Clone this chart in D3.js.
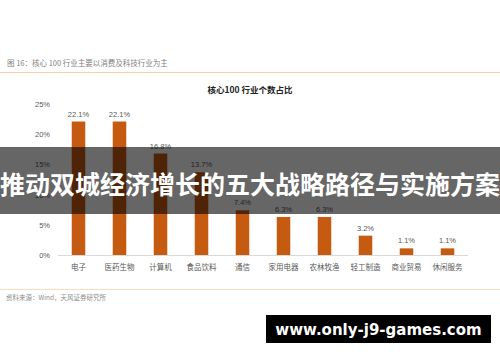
<!DOCTYPE html>
<html><head><meta charset="utf-8">
<script src="https://cdn.jsdelivr.net/npm/d3@7"></script>
<style>
html,body{margin:0;padding:0;background:#fff;}
svg{display:block;font-family:"Noto Sans CJK SC","Noto Sans",sans-serif;}
</style></head>
<body>
<script>
const categories = ["电子","医药生物","计算机","食品饮料","通信","家用电器","农林牧渔","轻工制造","商业贸易","休闲服务"];
const values = [22.1,22.1,16.8,13.7,7.4,6.3,6.3,3.2,1.1,1.1];
const yTicks = [0,5,10,15,20,25];
const figureTitle = "图 16：核心 100 行业主要以消费及科技行业为主";
const chartTitle = "核心100 行业个数占比";
const sourceText = "资料来源：Wind，天风证券研究所";
const overlayText = "推动双城经济增长的五大战略路径与实施方案";
const watermark = "www.only-j9-games.com";

const W = 500, H = 362;
const svg = d3.select("body").append("svg").attr("width", W).attr("height", H);

// header
svg.append("text").attr("x", 7).attr("y", 66).attr("font-size", 7.5).attr("fill", "#7f7f7f").text(figureTitle);
svg.append("line").attr("x1", 0).attr("x2", 500).attr("y1", 72.5).attr("y2", 72.5).attr("stroke", "#f9cfa8").attr("stroke-width", 1.2);
svg.append("text").attr("x", 250).attr("y", 93).attr("text-anchor", "middle").attr("font-size", 8.5).attr("font-weight", "bold").attr("fill", "#222").text(chartTitle);

const x = d3.scaleBand().domain(categories).range([58, 468]).paddingInner(0.67).paddingOuter(0.335);
const y = d3.scaleLinear().domain([0, 25]).range([255, 104]);

// axis
svg.append("line").attr("x1", 58).attr("x2", 468).attr("y1", 255.5).attr("y2", 255.5).attr("stroke", "#d9d9d9").attr("stroke-width", 1);
svg.selectAll(".yt").data(yTicks).join("text")
  .attr("x", 50).attr("y", d => y(d) + 3).attr("text-anchor", "end")
  .attr("font-size", 7.5).attr("fill", "#595959").attr("font-family", "Liberation Sans, Arial, sans-serif")
  .text(d => d + "%");

svg.selectAll(".bar").data(values).join("rect")
  .attr("x", (d, i) => x(categories[i])).attr("width", x.bandwidth())
  .attr("y", d => y(d)).attr("height", d => y(0) - y(d))
  .attr("fill", "#c55a11");

svg.selectAll(".vl").data(values).join("text")
  .attr("x", (d, i) => x(categories[i]) + x.bandwidth() / 2).attr("y", d => y(d) - 5)
  .attr("text-anchor", "middle").attr("font-size", 7.5).attr("fill", "#595959")
  .attr("font-family", "Liberation Sans, Arial, sans-serif")
  .text(d => d.toFixed(1) + "%");

svg.selectAll(".xl").data(categories).join("text")
  .attr("x", d => x(d) + x.bandwidth() / 2).attr("y", 270)
  .attr("text-anchor", "middle").attr("font-size", 7.5).attr("fill", "#595959")
  .text(d => d);

// footer
svg.append("line").attr("x1", 0).attr("x2", 500).attr("y1", 289.5).attr("y2", 289.5).attr("stroke", "#fbdcc0").attr("stroke-width", 1.2);
svg.append("text").attr("x", 6).attr("y", 300).attr("font-size", 6.5).attr("fill", "#8c8c8c").text(sourceText);

// overlay band
svg.append("rect").attr("x", 0).attr("y", 147).attr("width", 500).attr("height", 67).attr("fill", "rgba(0,0,0,0.6)");
svg.append("text").attr("x", 250).attr("y", 194).attr("text-anchor", "middle")
  .attr("font-size", 25).attr("font-weight", "bold").attr("fill", "#fff").text(overlayText);

// watermark
svg.append("rect").attr("x", 266).attr("y", 315).attr("width", 225).attr("height", 28).attr("fill", "#000");
svg.append("text").attr("x", 378.5).attr("y", 334.5).attr("text-anchor", "middle")
  .attr("font-size", 15).attr("font-weight", "bold").attr("fill", "#fff")
  .attr("font-family", "DejaVu Sans, sans-serif").text(watermark);
</script>
</body></html>
